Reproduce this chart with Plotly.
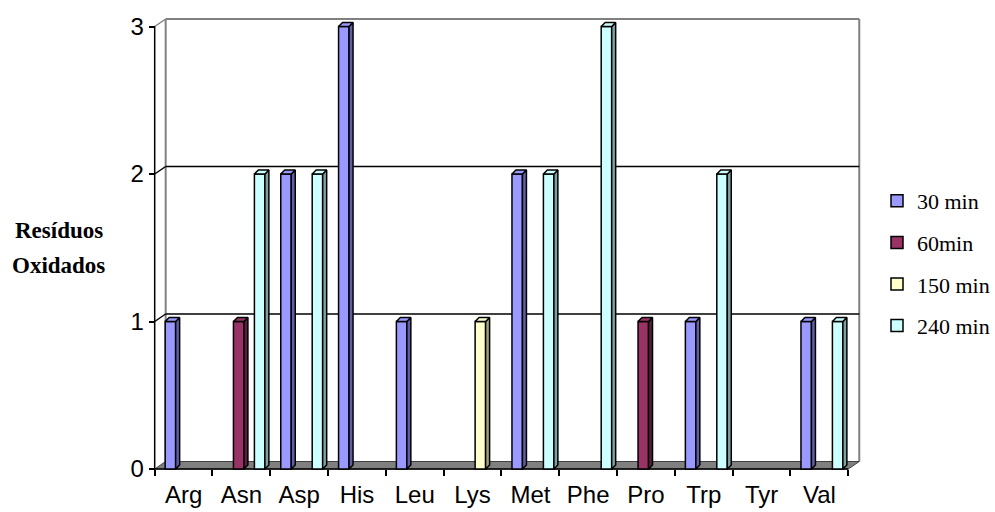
import plotly.graph_objects as go

# ---- data -------------------------------------------------------------
categories = ["Arg", "Asn", "Asp", "His", "Leu", "Lys", "Met", "Phe", "Pro", "Trp", "Tyr", "Val"]
series_names = ["30 min", "60min", "150 min", "240 min"]
min30 = [1, 0, 2, 3, 1, 0, 2, 0, 0, 1, 0, 1]
min60 = [0, 1, 0, 0, 0, 0, 0, 0, 1, 0, 0, 0]
min150 = [0, 0, 0, 0, 0, 1, 0, 0, 0, 0, 0, 0]
min240 = [0, 2, 2, 0, 0, 0, 2, 3, 0, 2, 0, 1]
y_ticks = [0, 1, 2, 3]
y_title = ["Resíduos", "Oxidados"]

series_values = [min30, min60, min150, min240]

# ---- styling ----------------------------------------------------------
front_colors = ["#9999FF", "#993366", "#FFFFCC", "#CCFFFF"]
side_colors = ["#5F5FA6", "#5A1E3C", "#A0A080", "#7FA0A0"]
WALL_GRAY = "#808080"
SANS = "Liberation Sans, Arial, sans-serif"
SERIF = "Liberation Serif, Times New Roman, serif"

W, H = 995, 512

# front plane of the 3-D box, in pixels
PX_LEFT, PX_RIGHT = 155, 850
PX_BASE, PX_TOP = 469, 26.5
N = len(categories)
YMAX = max(y_ticks)
SX = (PX_RIGHT - PX_LEFT) / N          # pixels per category
SY = (PX_BASE - PX_TOP) / YMAX          # pixels per unit


def ux(p):
    return p / SX


def uy(p):
    return p / SY


# depth of the walls and of each column (pixels right / up)
WALL_DX, WALL_DY = 11, 7.5
BAR_DX, BAR_DY = 4, 4
BAR_W = 10.5
BAR_START, BAR_STEP = 10.5, 10.5

# plotting rectangle (px): left, right, top, bottom
AREA = (150, 866, 12, 476)
x_range = [(AREA[0] - PX_LEFT) / SX, (AREA[1] - PX_LEFT) / SX]
y_range = [(PX_BASE - AREA[3]) / SY, (PX_BASE - AREA[2]) / SY]

fig = go.Figure()

# ---- front faces of the columns ----------------------------------------
centers = [i + 0.5 for i in range(N)]
for s, (name, vals) in enumerate(zip(series_names, series_values)):
    offset = ux(BAR_START + BAR_STEP * s) - 0.5
    fig.add_trace(go.Bar(
        x=centers,
        y=[v if v else None for v in vals],
        offset=offset,
        width=ux(BAR_W),
        name=name,
        legendgroup=name,
        marker=dict(color=front_colors[s], line=dict(color="black", width=1.5)),
        hoverinfo="skip",
    ))

# ---- side and top faces of the columns --------------------------------
ddx, ddy = ux(BAR_DX), uy(BAR_DY)
for s, (name, vals) in enumerate(zip(series_names, series_values)):
    offset = ux(BAR_START + BAR_STEP * s) - 0.5
    sx, sy, tx, ty = [], [], [], []
    for c, v in zip(centers, vals):
        if not v:
            continue
        xl = c + offset
        xr = xl + ux(BAR_W)
        sx += [xr, xr + ddx, xr + ddx, xr, xr, None]
        sy += [0, ddy, v + ddy, v, 0, None]
        tx += [xl, xl + ddx, xr + ddx, xr, xl, None]
        ty += [v, v + ddy, v + ddy, v, v, None]
    if not sx:
        continue
    fig.add_trace(go.Scatter(x=sx, y=sy, mode="lines", fill="toself",
                             fillcolor=side_colors[s],
                             line=dict(color="black", width=1.5),
                             showlegend=False, hoverinfo="skip"))
    fig.add_trace(go.Scatter(x=tx, y=ty, mode="lines", fill="toself",
                             fillcolor=front_colors[s],
                             line=dict(color="black", width=1.5),
                             showlegend=False, hoverinfo="skip"))

# ---- walls, floor and gridlines ---------------------------------------
wdx, wdy = ux(WALL_DX), uy(WALL_DY)
shapes = []


def line(x0, y0, x1, y1, color, width, layer="below"):
    shapes.append(dict(type="line", xref="x", yref="y", x0=x0, y0=y0, x1=x1, y1=y1,
                       line=dict(color=color, width=width), layer=layer))


# back wall outline
line(wdx, wdy, wdx, YMAX + wdy, WALL_GRAY, 2)
line(N + wdx, wdy, N + wdx, YMAX + wdy, WALL_GRAY, 2)
line(wdx, YMAX + wdy, N + wdx, YMAX + wdy, WALL_GRAY, 2)
line(0, YMAX, wdx, YMAX + wdy, WALL_GRAY, 1.5)
# gridlines on the back wall and left wall
for t in y_ticks[1:-1]:
    line(wdx, t + wdy, N + wdx, t + wdy, "black", 1.5)
    line(0, t, wdx, t + wdy, "black", 1.5)
# floor
shapes.append(dict(type="path", xref="x", yref="y", layer="below",
                   path=f"M0,0 L{wdx},{wdy} L{N + wdx},{wdy} L{N},0 Z",
                   fillcolor=WALL_GRAY, line=dict(color="#404040", width=1)))
# front axis lines
line(0, 0, 0, YMAX, "black", 1.5)
line(0, 0, N, 0, "black", 1.5)

# ---- y-axis title ------------------------------------------------------
annotations = []
for k, txt in enumerate(y_title):
    annotations.append(dict(text=f"<b>{txt}</b>", xref="paper", yref="paper",
                            x=59 / W, y=1 - (230 + 35 * k) / H,
                            xanchor="center", yanchor="middle", showarrow=False,
                            font=dict(family=SERIF, size=23, color="black")))

fig.update_layout(
    width=W, height=H,
    margin=dict(l=0, r=0, t=0, b=0, pad=0),
    paper_bgcolor="white", plot_bgcolor="rgba(0,0,0,0)",
    barmode="overlay",
    shapes=shapes,
    annotations=annotations,
    showlegend=True,
    legend=dict(x=879 / W, xanchor="left", y=1 - 180 / H, yanchor="top",
                font=dict(family=SERIF, size=22, color="black"),
                bgcolor="rgba(0,0,0,0)", tracegroupgap=10, itemwidth=30),
    xaxis=dict(domain=[AREA[0] / W, AREA[1] / W], range=x_range,
               anchor="free", position=(H - PX_BASE) / H,
               tickmode="array", tickvals=centers, ticktext=categories,
               ticks="", showgrid=False, zeroline=False, showline=False,
               ticklabelstandoff=9, automargin=False,
               tickfont=dict(family=SANS, size=24, color="black"),
               minor=dict(tickmode="linear", tick0=0, dtick=1, ticks="outside",
                          ticklen=6, tickwidth=1.5, tickcolor="black", showgrid=False)),
    yaxis=dict(domain=[1 - AREA[3] / H, 1 - AREA[2] / H], range=y_range,
               anchor="free", position=PX_LEFT / W,
               tickmode="array", tickvals=y_ticks,
               ticks="outside", ticklen=6, tickwidth=1.5, tickcolor="black",
               showgrid=False, zeroline=False, showline=False, automargin=False,
               tickfont=dict(family=SANS, size=24, color="black")),
)

fig.write_html("out.html")
